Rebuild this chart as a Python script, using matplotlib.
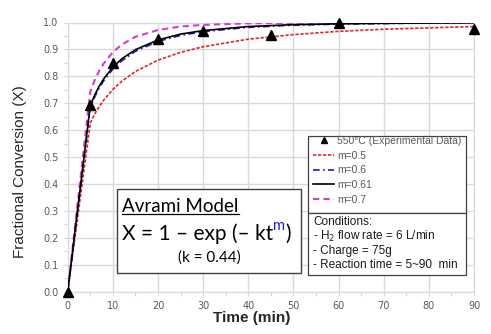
import matplotlib
matplotlib.use('Agg')
import matplotlib.pyplot as plt
from matplotlib.patches import Rectangle
from matplotlib.lines import Line2D
from matplotlib.text import Annotation
from matplotlib.ticker import MultipleLocator, FormatStrFormatter

'''Data read off the reference chart'''
t_exp = [0, 5, 10, 20, 30, 45, 60, 90]  # min
x_exp = [0.0, 0.695, 0.85, 0.938, 0.97, 0.953, 0.997, 0.975]

t_fit = [0, 5, 6, 7, 8, 10, 12, 15, 20, 25, 30, 40, 50, 60, 70, 80, 90]
x_m050 = [0, 0.626, 0.660, 0.688, 0.712, 0.751, 0.782, 0.818, 0.860, 0.889,
          0.910, 0.938, 0.955, 0.967, 0.975, 0.980, 0.985]
x_m060 = [0, 0.685, 0.724, 0.757, 0.784, 0.827, 0.858, 0.893, 0.930, 0.952,
          0.966, 0.982, 0.990, 0.994, 0.996, 0.998, 0.999]
x_m061 = [0, 0.691, 0.731, 0.764, 0.791, 0.834, 0.865, 0.899, 0.935, 0.957,
          0.970, 0.985, 0.992, 0.995, 0.997, 0.998, 0.999]
x_m070 = [0, 0.743, 0.786, 0.821, 0.848, 0.890, 0.918, 0.947, 0.972, 0.985,
          0.991, 0.997, 0.999, 1.000, 1.000, 1.000, 1.000]

conditions = ['Conditions:',
              '- H$_2$ flow rate = 6 L/min',
              '- Charge = 75g',
              '- Reaction time = 5~90  min']

W, H = 491, 334
def fx(x):  # pixel -> figure fraction
    return x / W
def fy(y):
    return 1 - y / H

fig = plt.figure(figsize=(W / 100, H / 100), dpi=100)
ax = fig.add_axes([fx(67.7), fy(291.5), fx(474) - fx(67.7), fy(22.5) - fy(291.5)])

grid_c = '#d9d9d9'
ax.plot(t_fit, x_m050, color='#e0262b', lw=1.2, ls=(0, (2, 1)), label='m=0.5', zorder=3)
ax.plot(t_fit, x_m060, color='#1c1cb4', lw=1.2, ls=(0, (4, 2, 1, 2)), label='m=0.6', zorder=4)
ax.plot(t_fit, x_m061, color='black', lw=1.2, ls='-', label='m=0.61', zorder=5)
ax.plot(t_fit, x_m070, color='#d838d8', lw=1.5, ls=(0, (3, 2)), label='m=0.7', zorder=3)
ax.plot(t_exp, x_exp, ls='none', marker='^', color='black', ms=7,
        label='550°C (Experimental Data)', zorder=6, clip_on=False)

ax.set_xlim(0, 90)
ax.set_ylim(0, 1.0)
ax.xaxis.set_major_locator(MultipleLocator(10))
ax.xaxis.set_minor_locator(MultipleLocator(5))
ax.yaxis.set_major_locator(MultipleLocator(0.1))
ax.yaxis.set_minor_locator(MultipleLocator(0.05))
ax.yaxis.set_major_formatter(FormatStrFormatter('%.1f'))
ax.grid(True, which='major', color=grid_c, lw=1.0)
ax.set_axisbelow(True)
for s in ax.spines.values():
    s.set_color(grid_c)
ax.tick_params(which='both', colors=grid_c, labelcolor='#595959', labelsize=7,
               length=3, width=0.8)
for lab in ax.get_xticklabels() + ax.get_yticklabels():
    lab.set_family('DejaVu Sans')

fig.text(fx(20), fy(172), 'Fractional Conversion (X)', rotation=90, ha='center',
         va='center', fontsize=11, family='Liberation Sans', color='#262626')
fig.text(fx(252), fy(318), 'Time (min)', ha='center', va='center', fontsize=11,
         family='Liberation Sans', fontweight='bold', color='#262626')

# legend box + conditions box
box_c = '#404040'
fig.add_artist(Rectangle((fx(308), fy(213)), fx(466) - fx(308), fy(136) - fy(213),
                         transform=fig.transFigure, facecolor='white', edgecolor=box_c,
                         lw=0.9, zorder=5))
fig.add_artist(Rectangle((fx(308), fy(275)), fx(466) - fx(308), fy(213) - fy(275),
                         transform=fig.transFigure, facecolor='white', edgecolor=box_c,
                         lw=0.9, zorder=5))
h, l = ax.get_legend_handles_labels()
order = [4, 0, 1, 2, 3]
leg = fig.legend([h[i] for i in order], [l[i] for i in order], loc='upper left',
                 bbox_to_anchor=(fx(311), fy(134)), frameon=False,
                 prop={'family': 'Liberation Sans', 'size': 7.5}, labelcolor='#595959',
                 handlelength=2.0, handletextpad=0.3, labelspacing=0.45,
                 borderpad=0.2, borderaxespad=0, markerscale=0.6)
leg.set_zorder(6)
for i, line in enumerate(conditions):
    fig.text(fx(313), fy(222 + i * 14.3), line, ha='left', va='center', fontsize=8.5,
             family='Liberation Sans', color='#1a1a1a', zorder=6)

# Avrami model box
fig.add_artist(Rectangle((fx(117), fy(273)), fx(301) - fx(117), fy(189) - fy(273),
                         transform=fig.transFigure, facecolor='white', edgecolor=box_c,
                         lw=1.0, zorder=5))
fig.text(fx(122), fy(212), 'Avrami Model', ha='left', va='baseline', fontsize=13.5,
         family='Lato', color='black', zorder=6)
fig.add_artist(Line2D([fx(122), fx(239)], [fy(214), fy(214)], transform=fig.transFigure,
                      color='black', lw=0.9, zorder=6))
t1 = fig.text(fx(122), fy(240), 'X = 1 \u2013 exp (\u2013 kt', ha='left', va='baseline',
              fontsize=15, family='Lato', color='black', zorder=6)
a2 = Annotation('m', xy=(1, 0.55), xycoords=t1, ha='left', va='bottom', fontsize=10.5,
                family='Lato', color='#1c1cd0', zorder=7, annotation_clip=False)
fig.add_artist(a2)
a3 = Annotation(')', xy=(1, 0), xycoords=(a2, t1), ha='left', va='bottom', fontsize=15,
                family='Lato', color='black', zorder=7, annotation_clip=False)
fig.add_artist(a3)
fig.text(fx(209), fy(262), '(k = 0.44)', ha='center', va='baseline', fontsize=11,
         family='Lato', color='black', zorder=6)

fig.savefig('out.png', dpi=100)
